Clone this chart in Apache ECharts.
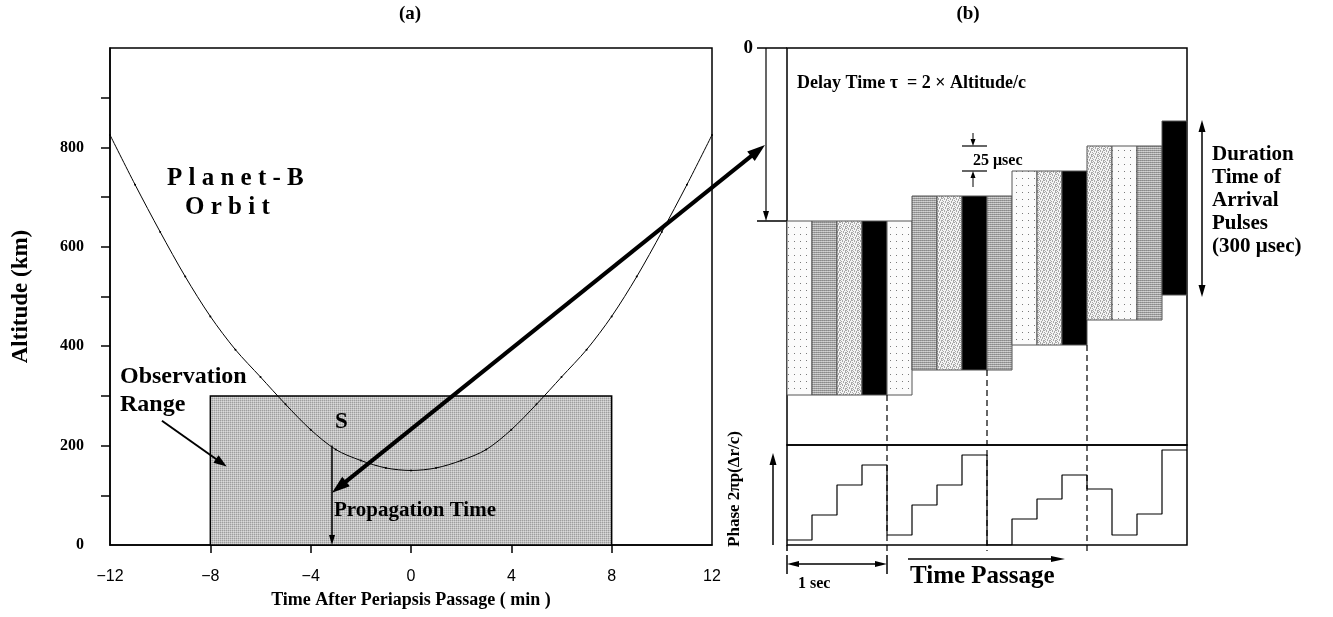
<!DOCTYPE html>
<html><head><meta charset="utf-8">
<script src="https://cdn.jsdelivr.net/npm/echarts@6/dist/echarts.min.js"></script>
<style>html,body{margin:0;padding:0;background:#fff}#c{width:1333px;height:617px}</style>
</head><body><div id="c"></div>
<script>
// ---------- Panel (a): Planet-B orbit ----------
const timeMin = [-12,-11,-10,-9,-8,-7,-6,-5,-4,-3,-2,-1,0,1,2,3,4,5,6,7,8,9,10,11,12];
const altitudeKm = [825,725,630,540,460,393,338,283,232,192,170,155,150,155,170,192,232,283,338,393,460,540,630,725,825];
const obsTime = [-8, 8];
const obsAlt = [0, 300];
const sTime = -3.15, sAlt = 200, propAlt = 105;
const xTickLabels = [-12,-8,-4,0,4,8,12];
const xTickMarks = [-8,-4,0,4,8];
const yTickLabels = [0,200,400,600,800];
const yTickMarks = [100,200,300,400,500,600,700,800,900];

// ---------- Panel (b): arrival pulses ----------
const pulseIndex = [0,1,2,3,4,5,6,7,8,9,10,11,12,13,14,15];
const pulseDelay = [173,173,173,173,173,148,148,148,148,123,123,123,98,98,98,73];
const pulseDuration = 174;
const pulsePattern = ['A','B','C','D','A','B','C','D','B','A','C','D','C','A','B','D'];
const phaseValues = [5,30,60,80,10,40,60,90,0,26,46,70,56,10,31,95];
const dashedAt = [4,8,12];

const SERIF = '"Liberation Serif","Times New Roman",serif';
const SANS = '"Liberation Sans",Arial,sans-serif';

function bitmap(rows, colors){
  const h=rows.length, w=rows[0].length;
  const c=document.createElement('canvas'); c.width=w; c.height=h; const g=c.getContext('2d');
  for(let y=0;y<h;y++) for(let x=0;x<w;x++){ g.fillStyle=colors[rows[y][x]]; g.fillRect(x,y,1,1); }
  return {image:c, repeat:'repeat'};
}
const patterns = {
  A: bitmap(['......','......','......','..x...','......','......','......'], {'.':'#fbfbfb','x':'#7a7a7a'}),
  B: bitmap(['ab','cd'], {a:'#8a8a8a',b:'#9c9c9c',c:'#c4c4c4',d:'#d2d2d2'}),
  C: bitmap(['x.x..x','..x.x.','x...x.','.x.x..','x..x.x','.x...x'], {'.':'#f4f4f4','x':'#a8a8a8'}),
  D: '#000',
  O: bitmap(['ab','bc'], {a:'#9e9e9e',b:'#c2c2c2',c:'#dadada'})
};

const chart = echarts.init(document.getElementById('c'), null, {renderer:'canvas'});
const axisLineStyle = {color:'#000', width:1.5};

chart.setOption({
  animation:false,
  grid:[
    {left:110, top:48, width:602, height:497, show:true, borderColor:'#000', borderWidth:1.5},
    {left:787, top:48, width:400, height:397, show:true, borderColor:'#000', borderWidth:1.5},
    {left:787, top:445, width:400, height:100, show:true, borderColor:'#000', borderWidth:1.5}
  ],
  xAxis:[
    {gridIndex:0, type:'value', min:-12, max:12, interval:4,
     axisLine:{onZero:false, lineStyle:axisLineStyle},
     axisTick:{length:8, customValues:xTickMarks, lineStyle:axisLineStyle},
     splitLine:{show:false},
     axisLabel:{margin:24, color:'#000', fontFamily:SANS, fontSize:16,
       formatter:v=>xTickLabels.includes(v)?String(v).replace('-','\u2212'):''},
     name:'Time After Periapsis Passage ( min )', nameLocation:'middle', nameGap:46,
     nameTextStyle:{fontFamily:SERIF, fontWeight:'bold', fontSize:18, color:'#000'}},
    {gridIndex:1, type:'value', min:0, max:16, show:false},
    {gridIndex:2, type:'value', min:0, max:16, show:false}
  ],
  yAxis:[
    {gridIndex:0, type:'value', min:0, max:1000, interval:100,
     axisLine:{show:true, onZero:false, lineStyle:axisLineStyle},
     axisTick:{show:true, length:9, customValues:yTickMarks, lineStyle:axisLineStyle},
     splitLine:{show:false},
     axisLabel:{margin:26, color:'#000', fontFamily:SERIF, fontWeight:'bold', fontSize:16,
       formatter:v=>yTickLabels.includes(v)?String(v):''},
     name:'Altitude (km)', nameLocation:'middle', nameGap:77,
     nameTextStyle:{fontFamily:SERIF, fontWeight:'bold', fontSize:23, color:'#000'}},
    {gridIndex:1, type:'value', min:0, max:397, inverse:true,
     axisLine:{show:false, onZero:false}, splitLine:{show:false},
     axisTick:{show:true, customValues:[0, pulseDelay[0]], length:30, lineStyle:axisLineStyle},
     axisLabel:{show:true, customValues:[0], margin:34, color:'#000', fontFamily:SERIF, fontWeight:'bold', fontSize:19}},
    {gridIndex:2, type:'value', min:0, max:100,
     axisLine:{show:false, onZero:false}, axisTick:{show:false}, axisLabel:{show:false}, splitLine:{show:false},
     name:'Phase 2\u03c0p(\u0394r/c)', nameLocation:'middle', nameGap:44,
     nameTextStyle:{fontFamily:SERIF, fontWeight:'bold', fontSize:17, color:'#000', padding:[0,0,0,12]}}
  ],
  series:[
    {type:'custom', xAxisIndex:0, yAxisIndex:0, z:1,
     data:[[obsTime[0], obsAlt[0], obsTime[1], obsAlt[1]]], encode:{x:[0,2], y:[1,3]},
     renderItem:(p,api)=>{const a=api.coord([api.value(0),api.value(3)]), b=api.coord([api.value(2),api.value(1)]);
       return {type:'rect', shape:{x:a[0],y:a[1],width:b[0]-a[0],height:b[1]-a[1]}, style:{fill:patterns.O, stroke:'#000', lineWidth:1.5}};}},
    {type:'line', xAxisIndex:0, yAxisIndex:0, z:3, smooth:0.3,
     data:timeMin.map((t,i)=>[t, altitudeKm[i]]),
     symbol:'circle', symbolSize:2, itemStyle:{color:'#000'},
     lineStyle:{color:'#000', width:1}},
    {type:'custom', xAxisIndex:1, yAxisIndex:1, z:2,
     data:pulseIndex.map(i=>[i, pulseDelay[i], pulseDelay[i]+pulseDuration]), encode:{x:0, y:[1,2]},
     renderItem:(p,api)=>{const i=api.value(0); const a=api.coord([i, api.value(1)]), b=api.coord([i+1, api.value(2)]);
       return {type:'rect', shape:{x:a[0],y:a[1],width:b[0]-a[0],height:b[1]-a[1]},
         style:{fill:patterns[pulsePattern[p.dataIndex]], stroke:'#555', lineWidth:1}};}},
    {type:'line', xAxisIndex:2, yAxisIndex:2, step:'end', symbol:'none', z:3,
     data:phaseValues.map((v,i)=>[i,v]).concat([[16, phaseValues[phaseValues.length-1]]]),
     lineStyle:{color:'#000', width:1.2}}
  ]
});

const P = (g,v)=>chart.convertToPixel({gridIndex:g}, v);
function arrow(a,b,o){
  o=o||{}; const lw=o.lw||1.5, hl=o.hl||10, hw=o.hw||3.5;
  const dx=b[0]-a[0], dy=b[1]-a[1], L=Math.hypot(dx,dy), ux=dx/L, uy=dy/L, nx=-uy, ny=ux;
  let s=a.slice(), e=b.slice(); const els=[];
  const head=(t,dx2,dy2)=>({type:'polygon', z:100, silent:true, shape:{points:[t,[t[0]-dx2*hl+nx*hw,t[1]-dy2*hl+ny*hw],[t[0]-dx2*hl-nx*hw,t[1]-dy2*hl-ny*hw]]}, style:{fill:'#000'}});
  if(o.end){els.push(head(b,ux,uy)); e=[b[0]-ux*hl*0.7,b[1]-uy*hl*0.7];}
  if(o.start){els.push(head(a,-ux,-uy)); s=[a[0]+ux*hl*0.7,a[1]+uy*hl*0.7];}
  els.unshift({type:'line', z:100, silent:true, shape:{x1:s[0],y1:s[1],x2:e[0],y2:e[1]}, style:{stroke:'#000', lineWidth:lw, lineDash:o.dash||null}});
  return els;
}
const line=(a,b,lw,dash)=>({type:'line', z:100, silent:true, shape:{x1:a[0],y1:a[1],x2:b[0],y2:b[1]}, style:{stroke:'#000', lineWidth:lw||1.5, lineDash:dash||null}});
const txt=(s,x,y,size,opt)=>({type:'text', z:110, silent:true, x:x, y:y,
  style:{text:s, font:'bold '+size+'px '+SERIF, fill:'#000', align:(opt&&opt.align)||'left', verticalAlign:'middle', lineHeight:(opt&&opt.lh)||undefined}});

const g = [];
// panel (a)
g.push(...arrow(P(0,[sTime,sAlt]), P(0,[sTime,0]), {lw:1.5, end:true, hl:10, hw:3}));
g.push(...arrow(P(1,[-0.88,97]), P(0,[sTime,propAlt]), {lw:4, start:true, end:true, hl:18, hw:6}));
g.push(...arrow(P(0,[-9.93,250]), P(0,[-7.35,158]), {lw:2, end:true, hl:13, hw:4.5}));
// panel (b)
g.push(...arrow(P(1,[-0.84,0]), P(1,[-0.84,pulseDelay[0]]), {lw:1.2, end:true, hl:10, hw:3}));
g.push(line(P(1,[7,pulseDelay[12]]), P(1,[8,pulseDelay[12]]), 1.2));
g.push(line(P(1,[7,pulseDelay[9]]), P(1,[8,pulseDelay[9]]), 1.2));
g.push(...arrow(P(1,[7.44,85]), P(1,[7.44,pulseDelay[12]]), {lw:1, end:true, hl:7, hw:2.5}));
g.push(...arrow(P(1,[7.44,139]), P(1,[7.44,pulseDelay[9]]), {lw:1, end:true, hl:7, hw:2.5}));
g.push(...arrow(P(1,[16.6,72]), P(1,[16.6,249]), {lw:1.5, start:true, end:true, hl:12, hw:3.5}));
dashedAt.forEach(d=>g.push(line(P(1,[d,pulseDelay[d-1]+pulseDuration]), P(2,[d,-6]), 1.2, [6,4])));
g.push(...arrow(P(2,[-0.56,0]), P(2,[-0.56,92]), {lw:1.5, end:true, hl:12, hw:3.5}));
g.push(line(P(2,[0,-10]), P(2,[0,-29]), 1.5));
g.push(line(P(2,[4,-10]), P(2,[4,-29]), 1.5));
g.push(line(P(2,[0,0]), P(2,[0,-6]), 1.5));
g.push(...arrow(P(2,[0,-19]), P(2,[4,-19]), {lw:1.5, start:true, end:true, hl:12, hw:3}));
g.push(...arrow(P(2,[4.84,-14]), P(2,[11.12,-14]), {lw:1.5, end:true, hl:14, hw:3}));
// texts
g.push(txt('(a)',410,14,19,{align:'center'}));
g.push(txt('(b)',968,14,19,{align:'center'}));
g.push(txt('P l a n e t - B',167,179,25));
g.push(txt('O r b i t',185,208,25));
g.push(txt('Observation',120,377,24));
g.push(txt('Range',120,405,24));
g.push(txt('S',335,422,23));
g.push(txt('Propagation Time',334,511,21));
g.push(txt('Delay Time \u03c4  = 2 \u00d7 Altitude/c',797,83,18));
g.push(txt('25 \u03bcsec',973,161,16));
g.push(txt('Duration\nTime of\nArrival\nPulses\n(300 \u03bcsec)',1212,201,21,{lh:23}));
g.push(txt('1 sec',798,584,16));
g.push(txt('Time Passage',910,577,25));

chart.setOption({graphic:{elements:g}});
</script></body></html>
